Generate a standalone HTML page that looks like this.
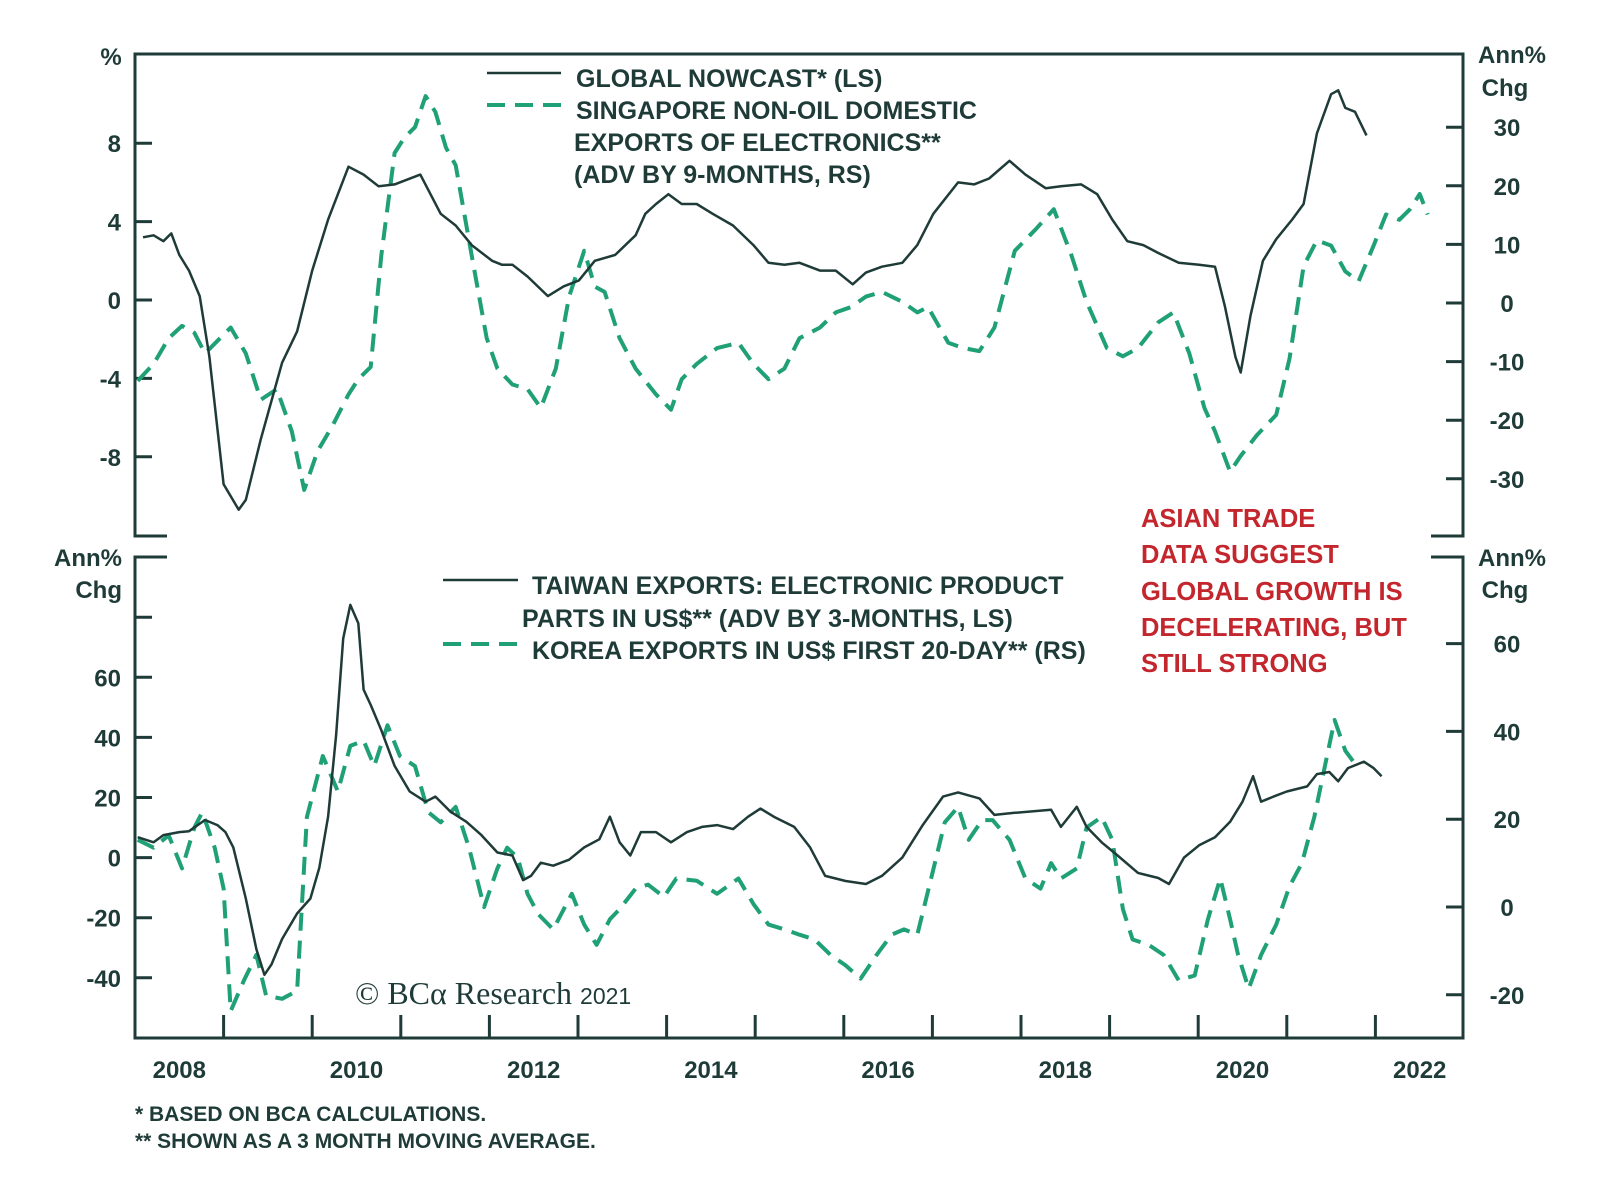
<!DOCTYPE html>
<html><head><meta charset="utf-8"><style>
html,body{margin:0;padding:0;background:#fff;}
svg{display:block;font-family:"Liberation Sans",Arial,sans-serif;}
.t{font-weight:bold;fill:#1f3b38;font-size:24px;}
.lg{font-size:25px;}
.r{font-weight:bold;fill:#c4262e;font-size:25.5px;}
.f{font-weight:bold;fill:#1f3b38;font-size:21px;}
</style></head><body>
<svg id="chart" width="1600" height="1182" viewBox="0 0 1600 1182" xmlns="http://www.w3.org/2000/svg">
<g id="frame" stroke="#1f3b38" stroke-width="3" fill="none">
<polyline points="167,536 135,536 135,54 1463,54 1463,536 1431,536"/>
<polyline points="167,557 135,557 135,1038 1463,1038 1463,557 1431,557"/>
</g>
<g id="ticks" stroke="#1f3b38" stroke-width="3"></g>
<g id="labels"></g>
<text class="t" x="111" y="65" text-anchor="middle">%</text>
<text class="t" x="1512" y="63" text-anchor="middle">Ann%</text>
<text class="t" x="1505" y="96" text-anchor="middle">Chg</text>
<text class="t" x="122" y="566" text-anchor="end">Ann%</text>
<text class="t" x="122" y="598" text-anchor="end">Chg</text>
<text class="t" x="1512" y="566" text-anchor="middle">Ann%</text>
<text class="t" x="1505" y="598" text-anchor="middle">Chg</text>
<g id="series"></g>
<g>
<line x1="487" y1="73" x2="561" y2="73" stroke="#1f3b38" stroke-width="2.5"/>
<line x1="487" y1="105" x2="561" y2="105" stroke="#1fa077" stroke-width="4" stroke-dasharray="18,10"/>
<text class="t lg" x="576" y="87">GLOBAL NOWCAST* (LS)</text>
<text class="t lg" x="576" y="119">SINGAPORE NON-OIL DOMESTIC</text>
<text class="t lg" x="574" y="151">EXPORTS OF ELECTRONICS**</text>
<text class="t lg" x="574" y="183">(ADV BY 9-MONTHS, RS)</text>
</g>
<g>
<line x1="443" y1="580" x2="518" y2="580" stroke="#1f3b38" stroke-width="2.5"/>
<line x1="443" y1="644" x2="518" y2="644" stroke="#1fa077" stroke-width="4" stroke-dasharray="18,10"/>
<text class="t lg" x="532" y="594">TAIWAN EXPORTS: ELECTRONIC PRODUCT</text>
<text class="t lg" x="522" y="627">PARTS IN US$** (ADV BY 3-MONTHS, LS)</text>
<text class="t lg" x="532" y="659">KOREA EXPORTS IN US$ FIRST 20-DAY** (RS)</text>
</g>
<g>
<text class="r" x="1141" y="527">ASIAN TRADE</text>
<text class="r" x="1141" y="563">DATA SUGGEST</text>
<text class="r" x="1141" y="600">GLOBAL GROWTH IS</text>
<text class="r" x="1141" y="636">DECELERATING, BUT</text>
<text class="r" x="1141" y="672">STILL STRONG</text>
</g>
<text x="355" y="1004" fill="#1f3b38" font-family="'Liberation Serif',serif" font-size="32">© BCα Research <tspan font-size="23" font-family="'Liberation Sans',sans-serif">2021</tspan></text>
<text class="f" x="135" y="1121">*  BASED ON BCA CALCULATIONS.</text>
<text class="f" x="135" y="1148">** SHOWN AS A 3 MONTH MOVING AVERAGE.</text>
</svg>
<script>
const nowcastYears=[2008.09,2008.21,2008.32,2008.41,2008.50,2008.61,2008.73,2008.84,2009.00,2009.17,2009.25,2009.42,2009.66,2009.83,2010.00,2010.18,2010.41,2010.58,2010.75,2010.93,2011.22,2011.45,2011.62,2011.80,2012.03,2012.14,2012.26,2012.43,2012.66,2012.84,2013.01,2013.19,2013.42,2013.65,2013.76,2013.88,2014.02,2014.17,2014.34,2014.52,2014.75,2014.98,2015.15,2015.33,2015.50,2015.73,2015.91,2016.10,2016.25,2016.43,2016.66,2016.83,2017.01,2017.29,2017.47,2017.64,2017.87,2018.05,2018.28,2018.45,2018.68,2018.86,2019.03,2019.20,2019.38,2019.55,2019.78,2020.01,2020.19,2020.30,2020.42,2020.48,2020.59,2020.73,2020.88,2021.06,2021.19,2021.34,2021.50,2021.58,2021.66,2021.77,2021.90];
const nowcastValues=[3.2,3.3,3.0,3.4,2.3,1.5,0.2,-2.9,-9.4,-10.7,-10.2,-7.1,-3.2,-1.6,1.5,4.1,6.8,6.4,5.8,5.9,6.4,4.4,3.8,2.8,2.0,1.8,1.8,1.2,0.2,0.7,1.0,2.0,2.3,3.3,4.4,4.9,5.4,4.9,4.9,4.4,3.8,2.8,1.9,1.8,1.9,1.5,1.5,0.8,1.4,1.7,1.9,2.8,4.4,6.0,5.9,6.2,7.1,6.4,5.7,5.8,5.9,5.4,4.1,3.0,2.8,2.4,1.9,1.8,1.7,-0.3,-2.9,-3.7,-0.8,2.0,3.1,4.1,4.9,8.5,10.5,10.7,9.8,9.6,8.4];
const singYears=[2008.03,2008.21,2008.38,2008.53,2008.67,2008.79,2008.96,2009.08,2009.25,2009.42,2009.60,2009.77,2009.91,2010.06,2010.23,2010.41,2010.52,2010.66,2010.78,2010.93,2011.04,2011.16,2011.28,2011.39,2011.51,2011.62,2011.80,2011.97,2012.09,2012.26,2012.43,2012.58,2012.75,2012.90,2013.07,2013.19,2013.30,2013.47,2013.65,2013.88,2014.05,2014.17,2014.34,2014.57,2014.81,2014.98,2015.15,2015.33,2015.50,2015.73,2015.91,2016.08,2016.25,2016.43,2016.66,2016.83,2016.95,2017.18,2017.35,2017.53,2017.70,2017.93,2018.16,2018.37,2018.57,2018.74,2018.97,2019.15,2019.32,2019.55,2019.72,2019.90,2020.07,2020.19,2020.36,2020.48,2020.66,2020.88,2021.03,2021.19,2021.34,2021.50,2021.66,2021.81,2021.98,2022.12,2022.27,2022.39,2022.50,2022.59];
const singValues=[-13.3,-10.4,-6.0,-3.9,-5.1,-8.6,-6.0,-4.2,-8.6,-16.5,-14.7,-21.9,-31.9,-25.3,-20.9,-15.6,-13.0,-10.9,8.1,25.6,28.2,30.0,35.3,32.6,26.5,23.5,8.1,-6.0,-11.2,-13.9,-14.7,-17.9,-11.2,1.1,8.9,2.8,1.9,-6.0,-11.2,-15.6,-18.2,-13.0,-10.4,-7.7,-6.8,-10.4,-13.0,-11.2,-6.0,-4.2,-1.6,-0.7,1.1,1.9,0.2,-1.6,-0.7,-6.8,-7.7,-8.2,-4.2,8.9,12.5,16.0,8.1,0.2,-7.7,-9.1,-7.7,-3.3,-1.6,-8.6,-17.9,-21.9,-28.8,-26.1,-22.6,-19.1,-9.5,6.3,10.7,9.8,5.4,3.7,9.8,15.1,14.2,16.0,18.6,15.1];
const taiwanYears=[2008.03,2008.21,2008.32,2008.50,2008.61,2008.79,2008.93,2009.02,2009.11,2009.25,2009.37,2009.46,2009.54,2009.66,2009.83,2009.98,2010.08,2010.18,2010.27,2010.35,2010.43,2010.52,2010.58,2010.66,2010.78,2010.93,2011.10,2011.28,2011.39,2011.56,2011.74,2011.91,2012.09,2012.26,2012.38,2012.47,2012.58,2012.72,2012.90,2013.07,2013.24,2013.36,2013.47,2013.59,2013.71,2013.88,2014.05,2014.23,2014.40,2014.57,2014.75,2014.92,2015.06,2015.21,2015.44,2015.62,2015.79,2016.02,2016.25,2016.43,2016.66,2016.89,2017.12,2017.29,2017.53,2017.70,2017.93,2018.34,2018.45,2018.63,2018.74,2018.91,2019.09,2019.32,2019.55,2019.67,2019.84,2020.01,2020.19,2020.36,2020.50,2020.62,2020.71,2020.85,2021.00,2021.23,2021.34,2021.48,2021.58,2021.69,2021.87,2021.98,2022.07];
const taiwanValues=[6.8,5.1,7.5,8.5,8.8,12.5,10.8,8.5,3.4,-13.6,-30.5,-39.0,-35.6,-27.1,-18.6,-13.6,-3.4,13.6,40.7,72.9,84.1,78.0,55.9,50.8,42.4,30.5,22.0,18.6,20.3,15.3,11.9,7.5,1.7,0.7,-7.5,-6.1,-1.7,-2.7,-0.7,3.4,6.1,13.6,5.1,0.7,8.5,8.5,5.1,8.5,10.2,10.8,9.5,13.6,16.3,13.6,10.2,3.4,-6.1,-7.8,-8.8,-6.1,0,10.8,20.3,21.7,19.7,14.2,14.9,15.9,10.2,16.9,10.2,5.1,0.7,-5.1,-6.8,-8.8,0,4.1,6.8,11.9,18.6,27.1,18.6,20.3,22.0,23.7,27.8,28.5,25.4,29.8,31.9,29.8,27.1];
const koreaYears=[2008.03,2008.21,2008.38,2008.53,2008.67,2008.76,2008.90,2009.00,2009.08,2009.23,2009.37,2009.48,2009.66,2009.83,2009.94,2010.12,2010.29,2010.43,2010.58,2010.70,2010.85,2010.99,2011.16,2011.31,2011.45,2011.62,2011.77,2011.94,2012.09,2012.20,2012.32,2012.43,2012.55,2012.72,2012.93,2013.07,2013.21,2013.36,2013.47,2013.65,2013.79,2013.97,2014.11,2014.34,2014.57,2014.81,2014.98,2015.15,2015.33,2015.50,2015.67,2015.85,2016.02,2016.19,2016.37,2016.54,2016.68,2016.83,2017.00,2017.14,2017.29,2017.41,2017.56,2017.68,2017.87,2018.05,2018.22,2018.34,2018.45,2018.63,2018.74,2018.91,2019.03,2019.15,2019.26,2019.44,2019.61,2019.78,2019.96,2020.11,2020.25,2020.36,2020.45,2020.57,2020.71,2020.88,2021.03,2021.17,2021.31,2021.43,2021.54,2021.66,2021.77];
const koreaValues=[15.3,13.5,16.3,8.8,18.1,21.6,13.5,4.2,-23.7,-16.7,-10.9,-20.2,-20.9,-19.1,20.5,34.4,26.3,36.7,37.9,32.1,41.4,34.4,32.1,21.6,19.3,22.8,13.5,0,8.8,13.5,11.2,3.0,-1.6,-5.1,3.0,-4.0,-8.6,-2.8,-0.5,4.2,5.1,2.3,6.5,6.0,3.0,6.5,0.7,-4.0,-5.1,-6.3,-7.4,-10.9,-13.3,-16.3,-10.9,-6.3,-5.1,-6.3,7.7,19.3,22.8,15.3,19.8,19.8,15.3,6.5,4.2,10.0,6.5,8.8,18.1,20.5,15.3,-0.5,-7.4,-8.6,-10.9,-16.7,-15.6,-2.8,6.5,-2.8,-10.9,-18.6,-10.9,-4.0,4.7,10.0,20.5,32.1,42.6,35.6,32.6];
const topLeftTicks=[8,4,0,-4,-8];
const topRightTicks=[30,20,10,0,-10,-20,-30];
const botLeftTicks=[80,60,40,20,0,-20,-40];
const botLeftLabels=["","60","40","20","0","-20","-40"];
const botRightTicks=[60,40,20,0,-20];
const yearTicks=[2009,2010,2011,2012,2013,2014,2015,2016,2017,2018,2019,2020,2021,2022];
const yearLabels=[2008,2010,2012,2014,2016,2018,2020,2022];

const X=y=>135+(y-2008)*88.6;
const yTL=v=>300-v*19.6;
const yTR=v=>303-v*5.86;
const yBL=v=>857.6-v*3.005;
const yBR=v=>907-v*4.39;
const NS="http://www.w3.org/2000/svg";
const tk=document.getElementById('ticks'),lb=document.getElementById('labels'),sr=document.getElementById('series');
function line(x1,y1,x2,y2){const l=document.createElementNS(NS,'line');l.setAttribute('x1',x1);l.setAttribute('y1',y1);l.setAttribute('x2',x2);l.setAttribute('y2',y2);


tk.appendChild(l);}
function label(txt,x,y,anchor){const t=document.createElementNS(NS,'text');t.setAttribute('class','t');t.setAttribute('x',x);t.setAttribute('y',y);t.setAttribute('text-anchor',anchor);t.textContent=txt;


lb.appendChild(t);}
topLeftTicks.forEach(v=>{line(135,yTL(v),152,yTL(v));label(String(v),121,yTL(v)+9,'end');});
topRightTicks.forEach(v=>{line(1446,yTR(v),1463,yTR(v));label(String(v),1507,yTR(v)+9,'middle');});
botLeftTicks.forEach((v,i)=>{line(135,yBL(v),152,yBL(v));label(botLeftLabels[i],121,yBL(v)+9,'end');});
botRightTicks.forEach(v=>{line(1446,yBR(v),1463,yBR(v));label(String(v),1507,yBR(v)+9,'middle');});
yearTicks.forEach(y=>line(X(y),1015,X(y),1038));
yearLabels.forEach(y=>label(String(y),X(y+0.5),1078,'middle'));
function path(xs,vs,fy,dash,name){const p=document.createElementNS(NS,'path');
p.setAttribute('d',xs.map((x,i)=>(i?'L':'M')+X(x).toFixed(1)+','+fy(vs[i]).toFixed(1)).join(''));
p.setAttribute('fill','none');p.setAttribute('stroke-linejoin','round');
if(dash){p.setAttribute('stroke','#1fa077');p.setAttribute('stroke-width','4');p.setAttribute('stroke-dasharray','18,10');}
else{p.setAttribute('stroke','#1f3b38');p.setAttribute('stroke-width','2.5');}


sr.appendChild(p);}
path(singYears,singValues,yTR,true,'singapore-exports-line');
path(nowcastYears,nowcastValues,yTL,false,'global-nowcast-line');
path(koreaYears,koreaValues,yBR,true,'korea-exports-line');
path(taiwanYears,taiwanValues,yBL,false,'taiwan-exports-line');
</script>
</body></html>
